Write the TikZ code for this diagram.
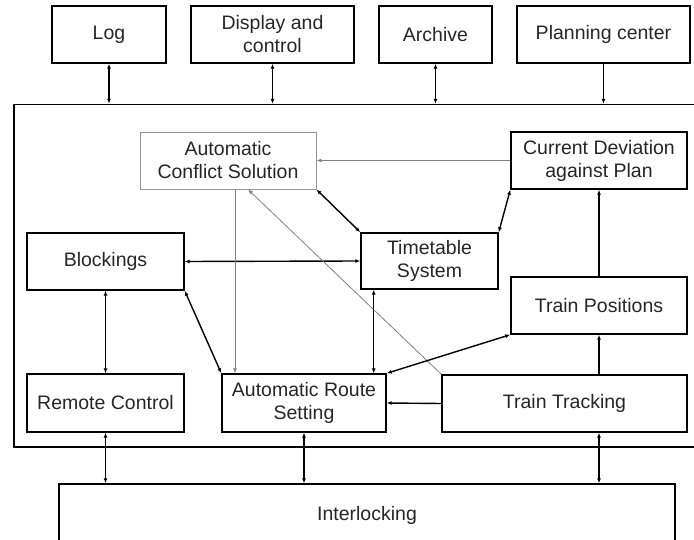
\documentclass[tikz,border=0pt]{standalone}
\usepackage{fontspec}
\setmainfont{Liberation Sans}
\usetikzlibrary{arrows.meta}

\begin{document}
\begin{tikzpicture}[x=1pt, y=-1pt,
	box/.style={draw, line width=1.4pt, inner sep=0pt, align=center,
		font=\fontsize{19.5}{23}\selectfont, text=black!85},
	softbox/.style={box, draw=gray!85, line width=0.9pt},
	link/.style={line width=1.4pt, -{Latex[length=5pt,width=4pt]}},
	dlink/.style={line width=1.4pt, {Latex[length=5pt,width=4pt]}-{Latex[length=5pt,width=4pt]}},
	softlink/.style={line width=0.8pt, draw=gray, -{Latex[length=5pt,width=4pt]}}]
	\useasboundingbox (0,0) rectangle (694,540);
	
	% top row
	\node[box, minimum width=114pt, minimum height=57pt] (log) at (109,34.5) {Log};
	\node[box, minimum width=163pt, minimum height=57pt] (disp) at (272.5,34.5) {Display and\\control};
	\node[box, minimum width=113pt, minimum height=57pt] (arch) at (435.5,34.5) {Archive};
	\node[box, minimum width=173pt, minimum height=57pt] (plan) at (603.5,34.5) {Planning center};
	
	% system frame
	\node[draw, line width=1.4pt, inner sep=0pt, minimum width=686pt, minimum height=342.5pt] (sys) at (357,275.75) {};
	
	% inner boxes
	\node[softbox, minimum width=176pt, minimum height=57pt] (acs) at (228,160.5) {Automatic\\Conflict Solution};
	\node[box, minimum width=176pt, minimum height=57pt] (cd) at (599,160.5) {Current Deviation\\against Plan};
	\node[box, minimum width=157pt, minimum height=57pt] (blk) at (105.5,261.5) {Blockings};
	\node[box, minimum width=137pt, minimum height=56pt] (tts) at (429.5,261) {Timetable\\System};
	\node[box, minimum width=176pt, minimum height=57pt] (tp) at (599,305.5) {Train Positions};
	\node[box, minimum width=157pt, minimum height=58pt] (rc) at (105.5,403) {Remote Control};
	\node[box, minimum width=164pt, minimum height=58pt] (ars) at (304,403) {Automatic Route\\Setting};
	\node[box, minimum width=245pt, minimum height=57pt] (tt) at (564.5,403.5) {Train Tracking};
	
	% interlocking
	\node[box, minimum width=616pt, minimum height=62pt] (il) at (367,515) {Interlocking};
	
	% links to the outside
	\draw[dlink] (log.south) -- (log.south |- sys.north);
	\draw[dlink] (disp.south) -- (disp.south |- sys.north);
	\draw[dlink] (arch.south) -- (arch.south |- sys.north);
	\draw[link] (plan.south) -- (plan.south |- sys.north);
	\draw[dlink] (rc.south) -- (rc.south |- il.north);
	\draw[dlink] (ars.south) -- (ars.south |- il.north);
	\draw[dlink] (tt.south -| tp.south) -- (tp.south |- il.north);
	
	% links inside
	\draw[softlink] (cd.west) -- (acs.east);
	\draw[dlink] (cd.south west) -- (tts.north east);
	\draw[dlink] (acs.south east) -- (tts.north west);
	\draw[dlink] (blk.east) -- (tts.west);
	\draw[dlink] (blk.south) -- (rc.north);
	\draw[dlink] (blk.south east) -- (ars.north west);
	\draw[softlink] ([xshift=7pt]acs.south) -- ([xshift=7pt]acs.south |- ars.north);
	\draw[softlink] (tt.north west) -- ([xshift=20pt]acs.south);
	\draw[dlink] ([xshift=-13pt]ars.north east |- tts.south) -- ([xshift=-13pt]ars.north east);
	\draw[dlink] (tp.south west) -- (ars.north east);
	\draw[link] (tt.west) -- (ars.east);
	\draw[link] (tt.north -| tp.north) -- (tp.south);
	\draw[link] (tp.north) -- (cd.south);
\end{tikzpicture}
\end{document}
